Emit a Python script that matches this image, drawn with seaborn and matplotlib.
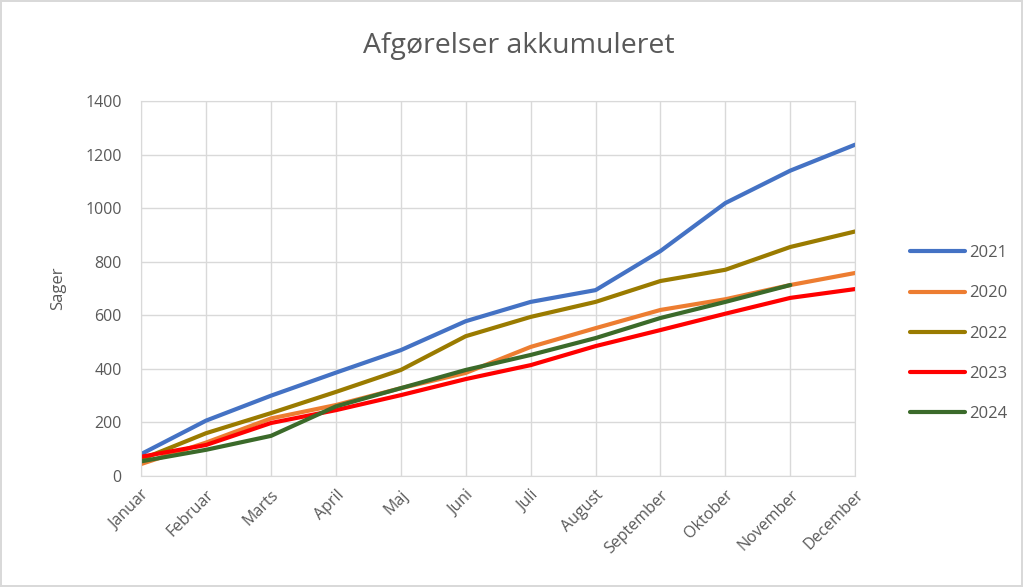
import pandas as pd
import matplotlib.pyplot as plt
import seaborn as sns

months = ['Januar', 'Februar', 'Marts', 'April', 'Maj', 'Juni', 'Juli',
          'August', 'September', 'Oktober', 'November', 'December']

y2021 = [82, 207, 300, 386, 470, 578, 650, 694, 840, 1019, 1140, 1237]
y2020 = [45, 125, 215, 265, 328, 385, 482, 552, 620, 660, 713, 758]
y2022 = [62, 160, 235, 314, 396, 522, 594, 650, 728, 770, 855, 913]
y2023 = [72, 116, 198, 246, 302, 362, 414, 485, 545, 606, 665, 698]
y2024 = [55, 98, 150, 260, 328, 396, 452, 515, 590, 650, 713, None]

series = {'2021': y2021, '2020': y2020, '2022': y2022, '2023': y2023, '2024': y2024}
colors = {'2021': '#4472C4', '2020': '#ED7D31', '2022': '#9A7B00',
          '2023': '#FF0000', '2024': '#3B6A2A'}

rows = []
for year, vals in series.items():
    for i, v in enumerate(vals):
        if v is not None:
            rows.append({'month': i, 'year': year, 'sager': v})
df = pd.DataFrame(rows)

sns.set_style('whitegrid')
plt.rcParams['font.family'] = ['Open Sans', 'DejaVu Sans']
txt = '#595959'

fig = plt.figure(figsize=(10.23, 5.87), dpi=100)
fig.patch.set_edgecolor('#D9D9D9')
fig.patch.set_linewidth(1.5)
ax = fig.add_axes([0.138, 0.189, 0.698, 0.639])

sns.lineplot(data=df, x='month', y='sager', hue='year', hue_order=list(series.keys()),
             palette=colors, linewidth=3, ax=ax)

ax.set_xlim(0, 11)
ax.set_ylim(0, 1400)
ax.set_yticks(range(0, 1401, 200))
ax.set_xticks(range(12))
ax.set_xticklabels(months, rotation=45, ha='right', rotation_mode='anchor')
ax.tick_params(colors=txt, labelsize=11.5, length=0)
ax.tick_params(axis='y', pad=14)
ax.tick_params(axis='x', pad=8)
ax.grid(True, color='#D9D9D9', linewidth=1)
for s in ax.spines.values():
    s.set_color('#D9D9D9')
ax.set_xlabel('')
ax.set_ylabel('Sager', color=txt, fontsize=12, labelpad=14)
fig.suptitle('Afgørelser akkumuleret', x=0.507, y=0.945, fontsize=20.5, color=txt)

ax.legend(title=None, frameon=False, loc='center left', bbox_to_anchor=(1.055, 0.38),
          fontsize=12, handlelength=3.3, handletextpad=0.3, labelspacing=1.45, labelcolor=txt)

fig.savefig('out.png', dpi=100)
